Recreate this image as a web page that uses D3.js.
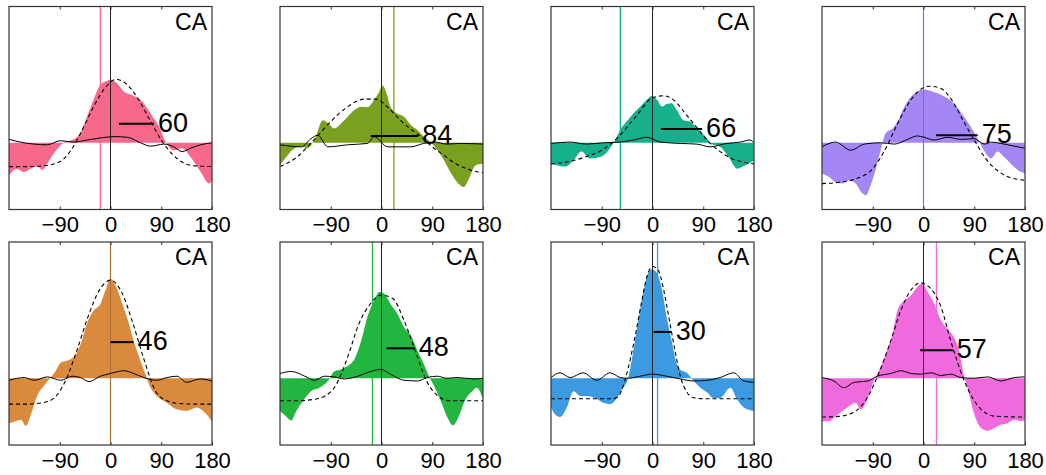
<!DOCTYPE html>
<html>
<head>
<meta charset="utf-8">
<script src="https://cdn.jsdelivr.net/npm/d3@7"></script>
<style>
body { margin: 0; background: #fff; }
text { font-family: "Liberation Sans", Arial, Helvetica, sans-serif; fill: #000; }
</style>
</head>
<body>
<div id="chart"></div>
<script>
var w = 1046;
var h = 475;

// x ticks shared by all panels
var tickValues = [-90, 0, 90, 180];
var tickLabels = ["\u221290", "0", "90", "180"];

// per-panel numbers (panel order: row 1 left->right, row 2 left->right)
var widthLabels = [60, 84, 66, 75, 46, 48, 30, 57];
var prefAngle = [-18, 22, -57, 0, 0, -16, 9, 23];
var segStart = [15, -19, 15, 22, 0, 9, 2, -6];
var segEnd = [77, 65, 88, 96, 41, 59, 34, 52];
var segLevel = [0.28, 0.10, 0.20, 0.11, 0.53, 0.44, 0.68, 0.41];

// filled (measured) curves: [angle, value]
var fill1 = [[-180,-0.48],[-166,-0.38],[-154,-0.43],[-142,-0.38],[-130,-0.35],[-121,-0.40],[-112,-0.30],[-101,-0.16],[-91,-0.06],[-83,0],[-65,0.05],[-53,0.15],[-41,0.40],[-30,0.63],[-18,0.85],[-6,0.91],[0,0.93],[9,0.89],[24,0.75],[38,0.70],[53,0.63],[71,0.43],[86,0.24],[98,0.01],[112,-0.11],[127,-0.08],[142,-0.21],[160,-0.43],[175,-0.60],[180,-0.55]];
var fill2 = [[-180,-0.33],[-169,-0.21],[-154,-0.08],[-142,-0.06],[-131,-0.08],[-119,0.04],[-104,0.33],[-95,0.29],[-84,0.21],[-66,0.33],[-48,0.48],[-36,0.53],[-25,0.52],[-13,0.63],[-4,0.75],[2,0.84],[8,0.75],[16,0.53],[28,0.43],[40,0.38],[52,0.26],[63,0.19],[75,0.09],[87,0.01],[99,-0.11],[111,-0.26],[122,-0.43],[134,-0.58],[146,-0.65],[155,-0.53],[167,-0.33],[180,-0.31]];
var fill3 = [[-180,-0.31],[-170,-0.33],[-155,-0.35],[-140,-0.26],[-126,-0.13],[-111,-0.23],[-93,-0.21],[-78,-0.11],[-66,0.04],[-57,0.19],[-46,0.31],[-34,0.43],[-22,0.53],[-10,0.63],[-1,0.69],[8,0.63],[17,0.53],[25,0.57],[34,0.58],[43,0.48],[55,0.33],[67,0.31],[79,0.21],[94,0.09],[105,-0.02],[120,-0.06],[135,-0.21],[150,-0.38],[162,-0.34],[180,-0.26]];
var fill4 = [[-180,-0.45],[-168,-0.50],[-156,-0.58],[-144,-0.60],[-132,-0.55],[-120,-0.60],[-111,-0.72],[-102,-0.77],[-94,-0.63],[-85,-0.40],[-76,-0.11],[-67,0.14],[-55,0.21],[-46,0.31],[-34,0.53],[-22,0.68],[-11,0.75],[1,0.78],[19,0.74],[37,0.68],[54,0.58],[72,0.38],[87,0.19],[99,0.01],[111,-0.16],[120,-0.23],[131,-0.13],[143,-0.21],[155,-0.31],[167,-0.40],[180,-0.45]];
var fill5 = [[-180,-0.66],[-168,-0.63],[-159,-0.61],[-150,-0.70],[-141,-0.53],[-129,-0.24],[-118,-0.11],[-106,0.01],[-97,0.11],[-88,0.23],[-76,0.26],[-65,0.31],[-53,0.50],[-41,0.82],[-29,1.00],[-18,1.09],[-9,1.29],[0,1.46],[9,1.36],[21,1.09],[32,0.82],[41,0.55],[53,0.26],[62,0.06],[71,-0.14],[82,-0.26],[100,-0.36],[118,-0.46],[135,-0.48],[153,-0.43],[168,-0.51],[180,-0.63]];
var fill6 = [[-180,-0.48],[-169,-0.56],[-160,-0.62],[-151,-0.48],[-139,-0.33],[-125,-0.19],[-110,-0.14],[-95,-0.04],[-84,0.10],[-72,0.13],[-60,0.18],[-48,0.28],[-36,0.55],[-25,0.90],[-13,1.14],[-4,1.27],[5,1.24],[16,1.09],[28,0.95],[40,0.75],[52,0.63],[64,0.40],[75,0.21],[84,0.03],[93,-0.11],[105,-0.33],[116,-0.56],[127,-0.69],[137,-0.56],[149,-0.31],[161,-0.19],[169,-0.14],[180,-0.31]];
var fill7 = [[-180,-0.43],[-173,-0.53],[-164,-0.57],[-152,-0.43],[-140,-0.19],[-128,-0.26],[-117,-0.26],[-102,-0.29],[-87,-0.36],[-75,-0.38],[-63,-0.29],[-52,-0.14],[-43,0],[-37,0.26],[-28,0.70],[-19,1.14],[-10,1.49],[-1,1.60],[8,1.54],[17,1.29],[25,0.90],[34,0.55],[43,0.21],[49,0.13],[61,0.08],[73,-0.04],[85,-0.14],[97,-0.21],[108,-0.29],[120,-0.29],[138,-0.14],[150,-0.31],[162,-0.43],[180,-0.48]];
var fill8 = [[-180,-0.63],[-168,-0.63],[-156,-0.56],[-144,-0.48],[-132,-0.41],[-120,-0.36],[-111,-0.46],[-99,-0.29],[-88,-0.04],[-76,0.16],[-64,0.43],[-55,0.65],[-46,1.00],[-34,1.14],[-22,1.22],[-11,1.34],[-2,1.39],[7,1.27],[19,1.09],[31,0.85],[43,0.72],[54,0.60],[63,0.40],[72,0.03],[78,-0.14],[90,-0.53],[102,-0.73],[114,-0.77],[126,-0.73],[138,-0.68],[149,-0.66],[161,-0.61],[173,-0.63],[180,-0.61]];

// dashed (fitted) curves
var dash1 = [[-180,-0.35],[-150,-0.35],[-120,-0.34],[-90,-0.28],[-70,-0.11],[-50,0.19],[-30,0.53],[-10,0.80],[10,0.93],[30,0.85],[50,0.63],[70,0.33],[90,0.04],[110,-0.17],[130,-0.30],[150,-0.34],[180,-0.35]];
var dash2 = [[-180,-0.35],[-150,-0.21],[-120,0.04],[-90,0.31],[-60,0.53],[-30,0.64],[-10,0.64],[10,0.53],[30,0.36],[50,0.21],[70,0.09],[90,-0.06],[110,-0.18],[130,-0.30],[150,-0.38],[180,-0.44]];
var dash3 = [[-180,-0.31],[-150,-0.28],[-120,-0.21],[-90,-0.11],[-60,0.09],[-30,0.38],[0,0.66],[20,0.69],[40,0.61],[60,0.41],[80,0.21],[100,0.01],[120,-0.13],[140,-0.23],[160,-0.28],[180,-0.31]];
var dash4 = [[-180,-0.60],[-150,-0.58],[-120,-0.53],[-90,-0.38],[-70,-0.13],[-50,0.21],[-30,0.53],[-10,0.75],[10,0.83],[30,0.80],[50,0.63],[70,0.33],[90,0.04],[110,-0.23],[130,-0.40],[150,-0.50],[180,-0.55]];
var dash5 = [[-180,-0.38],[-150,-0.38],[-120,-0.36],[-100,-0.29],[-80,-0.04],[-60,0.40],[-40,0.90],[-20,1.29],[0,1.44],[20,1.26],[40,0.80],[60,0.26],[80,-0.19],[100,-0.33],[120,-0.37],[150,-0.38],[180,-0.38]];
var dash6 = [[-180,-0.33],[-150,-0.33],[-120,-0.31],[-100,-0.26],[-80,-0.09],[-60,0.31],[-40,0.80],[-20,1.09],[0,1.22],[20,1.17],[40,0.85],[60,0.40],[80,-0.04],[100,-0.26],[120,-0.33],[150,-0.33],[180,-0.33]];
var dash7 = [[-180,-0.30],[-120,-0.30],[-70,-0.30],[-60,-0.26],[-50,-0.06],[-40,0.26],[-30,0.65],[-20,1.09],[-10,1.49],[0,1.64],[10,1.59],[20,1.29],[30,0.85],[40,0.40],[50,0.01],[60,-0.19],[70,-0.28],[90,-0.30],[180,-0.30]];
var dash8 = [[-180,-0.57],[-150,-0.56],[-120,-0.48],[-100,-0.29],[-80,0.06],[-60,0.50],[-40,1.00],[-20,1.32],[-5,1.40],[10,1.34],[30,1.07],[50,0.50],[70,0.01],[90,-0.33],[110,-0.51],[130,-0.56],[180,-0.57]];

// thin solid (control) curves
var solid1 = [[-180,0.05],[-160,0.01],[-136,-0.02],[-112,-0.03],[-89,0.03],[-65,0.01],[-41,0.04],[-18,0.07],[6,0.09],[30,0.08],[53,0],[71,-0.05],[95,-0.02],[112,-0.06],[127,-0.13],[142,-0.08],[160,-0.03],[180,0]];
var solid2 = [[-180,-0.03],[-142,-0.06],[-125,0.06],[-113,0.11],[-95,-0.06],[-60,-0.03],[-25,-0.01],[-13,0.09],[11,-0.06],[52,-0.06],[75,-0.01],[93,0.01],[116,-0.02],[140,-0.01],[180,-0.02]];
var solid3 = [[-180,-0.01],[-146,0.01],[-117,-0.02],[-87,0],[-57,0.01],[-34,0.04],[-10,0.08],[14,0.01],[49,-0.01],[79,-0.02],[102,-0.06],[132,-0.01],[156,0.01],[173,0.04],[180,0]];
var solid4 = [[-180,-0.06],[-156,0.01],[-129,-0.11],[-105,-0.02],[-76,0],[-52,-0.02],[-28,0.05],[-11,0.10],[1,0.08],[19,0.04],[43,0.08],[66,0.05],[90,0.06],[108,-0.02],[120,0.01],[137,-0.01],[161,-0.05],[180,-0.08]];
var solid5 = [[-180,-0.03],[-153,0.01],[-135,-0.03],[-112,0.02],[-88,-0.03],[-68,0.03],[-53,0.01],[-38,-0.05],[-18,0.03],[0,0.07],[24,0.11],[41,0.07],[59,0.01],[82,-0.03],[100,0.01],[118,0.03],[135,-0.06],[159,-0.01],[180,-0.04]];
var solid6 = [[-180,0.07],[-160,0.10],[-136,0.03],[-119,-0.03],[-101,0.03],[-84,0.02],[-66,-0.01],[-42,0.03],[-19,0.10],[-1,0.13],[16,0.06],[40,-0.03],[64,-0.04],[81,0.01],[99,0.03],[116,0],[134,0.01],[164,-0.01],[180,0]];
var solid7 = [[-180,0.01],[-164,0.08],[-146,0.01],[-123,0.08],[-99,-0.03],[-75,0.08],[-57,0.01],[-43,0],[-22,0.03],[0,0.06],[25,0.03],[49,-0.01],[73,-0.04],[97,-0.03],[120,0.01],[144,0.08],[162,-0.04],[180,-0.06]];
var solid8 = [[-180,0.01],[-159,-0.04],[-141,-0.14],[-123,-0.06],[-99,-0.04],[-82,0.03],[-58,0.07],[-40,0.11],[-22,0.07],[-5,0.06],[13,0.08],[31,0.04],[49,0.06],[66,0.01],[90,0],[114,0.02],[137,-0.04],[161,0.01],[180,0.02]];

var fills = [fill1, fill2, fill3, fill4, fill5, fill6, fill7, fill8];
var dashes = [dash1, dash2, dash3, dash4, dash5, dash6, dash7, dash8];
var solids = [solid1, solid2, solid3, solid4, solid5, solid6, solid7, solid8];

var colors = ["#f8688a", "#79a11f", "#17b08c", "#a487f4", "#d98a3c", "#22b53f", "#3b9ae0", "#f06ade"];

var panelW = 203, panelH = 203;
var colLeft = [9, 280, 551, 822];
var rowTop = [6.5, 242];

var xScale = d3.scaleLinear().domain([-180, 180]).range([0, panelW]);
var yScale = d3.scaleLinear().domain([-0.98, 2]).range([panelH, 0]);

var svg = d3.select("#chart")
            .append("svg")
            .attr("width", w)
            .attr("height", h);

var area = d3.area()
             .x(function(d) { return xScale(d[0]); })
             .y0(yScale(0))
             .y1(function(d) { return yScale(d[1]); })
             .curve(d3.curveMonotoneX);

var line = d3.line()
             .x(function(d) { return xScale(d[0]); })
             .y(function(d) { return yScale(d[1]); })
             .curve(d3.curveMonotoneX);

fills.forEach(function(fd, i) {
    var g = svg.append("g")
               .attr("transform", "translate(" + colLeft[i % 4] + "," + rowTop[Math.floor(i / 4)] + ")");

    g.append("path")
     .attr("d", area(fd))
     .attr("fill", colors[i]);

    // zero line
    g.append("line")
     .attr("x1", xScale(0)).attr("x2", xScale(0))
     .attr("y1", 0).attr("y2", panelH)
     .attr("stroke", "#222").attr("stroke-width", 1);

    // preferred direction line
    g.append("line")
     .attr("x1", xScale(prefAngle[i])).attr("x2", xScale(prefAngle[i]))
     .attr("y1", 0).attr("y2", panelH)
     .attr("stroke", colors[i]).attr("stroke-width", 1.3)
     .attr("opacity", prefAngle[i] == 0 ? 0.75 : 1);

    g.append("path")
     .attr("d", line(dashes[i]))
     .attr("fill", "none")
     .attr("stroke", "#000")
     .attr("stroke-width", 1.1)
     .attr("stroke-dasharray", "4,3");

    g.append("path")
     .attr("d", line(solids[i]))
     .attr("fill", "none")
     .attr("stroke", "#000")
     .attr("stroke-width", 1);

    // width bar + label
    g.append("line")
     .attr("x1", xScale(segStart[i])).attr("x2", xScale(segEnd[i]))
     .attr("y1", yScale(segLevel[i])).attr("y2", yScale(segLevel[i]))
     .attr("stroke", "#000").attr("stroke-width", 2);

    g.append("text")
     .attr("x", xScale(segEnd[i]) + 4)
     .attr("y", yScale(segLevel[i]))
     .attr("dy", "0.3em")
     .attr("font-size", "27px")
     .text(widthLabels[i]);

    g.append("text")
     .attr("x", panelW - 5)
     .attr("y", 23)
     .attr("text-anchor", "end")
     .attr("font-size", "23px")
     .text("CA");

    // frame
    g.append("rect")
     .attr("width", panelW).attr("height", panelH)
     .attr("fill", "none")
     .attr("stroke", "#333").attr("stroke-width", 1.2);

    // inward ticks top and bottom
    var xAxisB = d3.axisBottom(xScale).tickValues(tickValues)
                   .tickSize(-3).tickPadding(7)
                   .tickFormat(function(d, k) { return tickLabels[k]; });
    var ax = g.append("g").attr("transform", "translate(0," + panelH + ")").call(xAxisB);
    ax.select(".domain").remove();
    ax.selectAll("text").attr("font-size", "22px").attr("fill", "#000")
      .attr("font-family", "Liberation Sans, Arial, sans-serif");
    ax.selectAll("line").attr("stroke", "#333");

    var xAxisT = d3.axisTop(xScale).tickValues(tickValues.slice(0, 3))
                   .tickSize(-3).tickFormat("");
    var at = g.append("g").call(xAxisT);
    at.select(".domain").remove();
    at.selectAll("line").attr("stroke", "#333");
});
</script>
</body>
</html>
